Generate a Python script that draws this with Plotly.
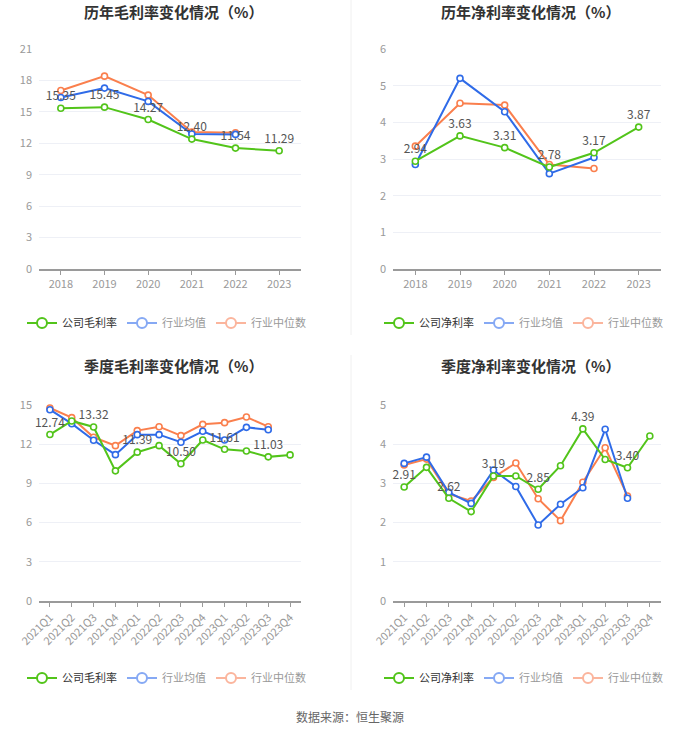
import plotly.graph_objects as go

years = ['2018', '2019', '2020', '2021', '2022', '2023']
quarters = ['2021Q1', '2021Q2', '2021Q3', '2021Q4', '2022Q1', '2022Q2',
            '2022Q3', '2022Q4', '2023Q1', '2023Q2', '2023Q3', '2023Q4']

# 历年毛利率
gross_year_co = [15.35, 15.45, 14.27, 12.40, 11.54, 11.29]
gross_year_avg = [16.37, 17.27, 16.00, 12.88, 12.85]
gross_year_med = [17.04, 18.41, 16.60, 13.07, 13.00]

# 历年净利率
net_year_co = [2.94, 3.63, 3.31, 2.78, 3.17, 3.87]
net_year_avg = [2.85, 5.20, 4.29, 2.60, 3.04]
net_year_med = [3.35, 4.52, 4.47, 2.85, 2.74]

# 季度毛利率
gross_q_co = [12.74, 13.78, 13.32, 9.96, 11.39, 11.89, 10.50, 12.32, 11.61, 11.48, 11.03, 11.18]
gross_q_avg = [14.64, 13.57, 12.30, 11.20, 12.73, 12.73, 12.15, 12.99, 12.32, 13.29, 13.11]
gross_q_med = [14.77, 14.03, 12.53, 11.89, 13.04, 13.34, 12.66, 13.52, 13.65, 14.08, 13.34]

# 季度净利率
net_q_co = [2.91, 3.41, 2.62, 2.28, 3.19, 3.19, 2.85, 3.45, 4.39, 3.61, 3.40, 4.21]
net_q_avg = [3.51, 3.67, 2.77, 2.49, 3.34, 2.92, 1.94, 2.47, 2.89, 4.38, 2.62]
net_q_med = [3.47, 3.62, 2.73, 2.55, 3.15, 3.52, 2.61, 2.05, 3.03, 3.91, 2.68]

GREEN = '#52c41a'
BLUE = '#2f6be8'
ORANGE = '#fa7f4d'
BLUE_L = '#86a9f4'
ORANGE_L = '#fbb59d'
FONT = 'Noto Sans CJK SC'

panels = [
    dict(title='历年毛利率变化情况（%）', cats=years, co=gross_year_co, avg=gross_year_avg,
         med=gross_year_med, co_name='公司毛利率', ymax=21, dtick=3, every=1,
         xd=[39 / 700, 301 / 700], yd=[1 - 269 / 733, 1 - 49 / 733], ty=12, ly=323),
    dict(title='历年净利率变化情况（%）', cats=years, co=net_year_co, avg=net_year_avg,
         med=net_year_med, co_name='公司净利率', ymax=6, dtick=1, every=1,
         xd=[393 / 700, 661 / 700], yd=[1 - 269 / 733, 1 - 49 / 733], ty=12, ly=323),
    dict(title='季度毛利率变化情况（%）', cats=quarters, co=gross_q_co, avg=gross_q_avg,
         med=gross_q_med, co_name='公司毛利率', ymax=15, dtick=3, every=2,
         xd=[39 / 700, 301 / 700], yd=[1 - 601 / 733, 1 - 405 / 733], ty=365, ly=678),
    dict(title='季度净利率变化情况（%）', cats=quarters, co=net_q_co, avg=net_q_avg,
         med=net_q_med, co_name='公司净利率', ymax=5, dtick=1, every=2,
         xd=[393 / 700, 661 / 700], yd=[1 - 601 / 733, 1 - 405 / 733], ty=365, ly=678),
]

fig = go.Figure()
layout = dict(width=700, height=733, margin=dict(l=0, r=0, t=0, b=0, autoexpand=False),
              paper_bgcolor='white', plot_bgcolor='white',
              font=dict(family=FONT, color='#333'), showlegend=True)
annotations = []

for i, p in enumerate(panels):
    n = '' if i == 0 else str(i + 1)
    xa, ya, lg = 'x' + n, 'y' + n, 'legend' + n
    labels = [f'{v:.2f}' if k % p['every'] == 0 else '' for k, v in enumerate(p['co'])]

    def add(y, color, name, text=None, width=2):
        fig.add_trace(go.Scatter(
            x=p['cats'][:len(y)], y=y, mode='lines+markers+text' if text else 'lines+markers',
            text=text, textposition='top center', textfont=dict(size=12, color='#555'),
            line=dict(color=color, width=width),
            marker=dict(symbol='circle', size=6, color='white', line=dict(color=color, width=1.6)),
            name=name, showlegend=False, xaxis=xa, yaxis=ya, cliponaxis=False, hoverinfo='skip'))

    add(p['med'], ORANGE, '行业中位数')
    add(p['avg'], BLUE, '行业均值')
    add(p['co'], GREEN, p['co_name'], text=labels)

    # legend entries
    for name, color, tcol in [(p['co_name'], GREEN, '#333'), ('行业均值', BLUE_L, '#999'),
                              ('行业中位数', ORANGE_L, '#999')]:
        fig.add_trace(go.Scatter(
            x=[None], y=[None], mode='lines+markers',
            line=dict(color=color, width=2),
            marker=dict(symbol='circle', size=10, color='white', line=dict(color=color, width=2)),
            name=f'<span style="color:{tcol}">{name}</span>', legend=lg,
            xaxis=xa, yaxis=ya, showlegend=True))

    layout['xaxis' + n] = dict(
        domain=p['xd'], anchor=ya, type='category', range=[-0.5, len(p['cats']) - 0.5],
        showgrid=False, showline=True, linecolor='#9a9a9a', linewidth=1.5,
        ticks='outside', ticklen=4, tickcolor='#9a9a9a', automargin=False,
        tickfont=dict(size=11, color='#999'), tickangle=-45 if p['every'] == 2 else 0,
        fixedrange=True)
    layout['yaxis' + n] = dict(
        domain=p['yd'], anchor=xa, range=[0, p['ymax']], dtick=p['dtick'],
        showgrid=True, gridcolor='#eef0f6', gridwidth=1, zeroline=False, showline=False,
        automargin=False, tickfont=dict(size=11, color='#999'), ticklabelstandoff=6,
        fixedrange=True)
    layout[lg] = dict(orientation='h', x=sum(p['xd']) / 2 - 0.005, xanchor='center',
                      y=1 - p['ly'] / 733, yanchor='middle', font=dict(size=11),
                      itemwidth=30, tracegroupgap=0, bgcolor='rgba(0,0,0,0)')
    annotations.append(dict(text='<b>' + p['title'] + '</b>', x=sum(p['xd']) / 2 + 0.005,
                            xref='paper', y=1 - p['ty'] / 733, yref='paper',
                            xanchor='center', yanchor='middle', showarrow=False,
                            font=dict(size=15, color='#333')))

annotations.append(dict(text='数据来源：恒生聚源', x=0.5, y=1 - 716 / 733, xref='paper', yref='paper',
                        xanchor='center', yanchor='middle', showarrow=False,
                        font=dict(size=12, color='#666')))
layout['annotations'] = annotations
layout['shapes'] = [
    dict(type='line', xref='paper', yref='paper', x0=351 / 700, x1=351 / 700,
         y0=1 - 335 / 733, y1=1.0, line=dict(color='#f0f0f0', width=1)),
    dict(type='line', xref='paper', yref='paper', x0=351 / 700, x1=351 / 700,
         y0=1 - 690 / 733, y1=1 - 355 / 733, line=dict(color='#f0f0f0', width=1)),
]
fig.update_layout(**layout)
fig.write_html('out.html', config={'displayModeBar': False},
               post_script="document.body.style.margin='0';")
